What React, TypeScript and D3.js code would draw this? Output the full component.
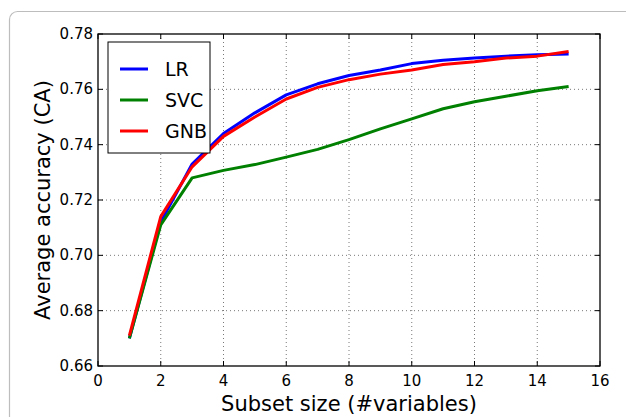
import React from "react";
import * as d3 from "d3";

const subsetSizes = [1, 2, 3, 4, 5, 6, 7, 8, 9, 10, 11, 12, 13, 14, 15];
const lrValues = [0.670, 0.712, 0.733, 0.744, 0.7515, 0.758, 0.762, 0.765, 0.767, 0.7693, 0.7705, 0.7713, 0.772, 0.7725, 0.7728];
const svcValues = [0.670, 0.711, 0.728, 0.7307, 0.7328, 0.7355, 0.7383, 0.7418, 0.7457, 0.7493, 0.753, 0.7555, 0.7575, 0.7595, 0.761];
const gnbValues = [0.671, 0.714, 0.732, 0.743, 0.750, 0.7565, 0.7607, 0.7635, 0.7655, 0.767, 0.769, 0.770, 0.7713, 0.772, 0.7737];
const seriesNames = ["LR", "SVC", "GNB"];
const seriesColors = ["#0000ff", "#008000", "#ff0000"];
const xTicks = [0, 2, 4, 6, 8, 10, 12, 14, 16];
const yTicks = [0.66, 0.68, 0.70, 0.72, 0.74, 0.76, 0.78];

const W = 626;
const H = 417;
const M = { left: 98, right: 600, top: 34, bottom: 366 };
const FONT = "DejaVu Sans, sans-serif";

export default function App() {
  const x = d3.scaleLinear().domain([0, 16]).range([M.left, M.right]);
  const y = d3.scaleLinear().domain([0.66, 0.78]).range([M.bottom, M.top]);
  const allSeries = [lrValues, svcValues, gnbValues];
  const line = d3
    .line<[number, number]>()
    .x((d) => x(d[0]))
    .y((d) => y(d[1]));

  return (
    <svg
      width={W}
      height={H}
      style={{ position: "absolute", left: 0, top: 0, background: "#fff" }}
    >
      <rect x={9.5} y={11.5} width={640} height={440} rx={8} ry={8} fill="#fff" stroke="#bdbdbd" strokeWidth={1.2} />
      {/* grid */}
      {xTicks.slice(1, -1).map((t) => (
        <line key={"gx" + t} x1={x(t)} x2={x(t)} y1={M.top} y2={M.bottom} stroke="#555" strokeWidth={0.8} strokeDasharray="1,3" />
      ))}
      {yTicks.slice(1, -1).map((t) => (
        <line key={"gy" + t} x1={M.left} x2={M.right} y1={y(t)} y2={y(t)} stroke="#555" strokeWidth={0.8} strokeDasharray="1,3" />
      ))}
      {/* series */}
      {allSeries.map((vals, i) => (
        <path
          key={seriesNames[i]}
          d={line(vals.map((v, j) => [subsetSizes[j], v] as [number, number])) || ""}
          fill="none"
          stroke={seriesColors[i]}
          strokeWidth={3}
          strokeLinejoin="round"
        />
      ))}
      {/* ticks */}
      {xTicks.map((t) => (
        <g key={"xt" + t}>
          <line x1={x(t)} x2={x(t)} y1={M.bottom} y2={M.bottom - 5} stroke="#000" />
          <line x1={x(t)} x2={x(t)} y1={M.top} y2={M.top + 5} stroke="#000" />
          <text x={x(t)} y={M.bottom + 20} textAnchor="middle" fontFamily={FONT} fontSize={15} fill="#000">
            {t}
          </text>
        </g>
      ))}
      {yTicks.map((t) => (
        <g key={"yt" + t}>
          <line x1={M.left} x2={M.left + 5} y1={y(t)} y2={y(t)} stroke="#000" />
          <line x1={M.right} x2={M.right - 5} y1={y(t)} y2={y(t)} stroke="#000" />
          <text x={M.left - 5} y={y(t) + 5} textAnchor="end" fontFamily={FONT} fontSize={15} fill="#000">
            {t.toFixed(2)}
          </text>
        </g>
      ))}
      {/* frame */}
      <rect x={M.left} y={M.top} width={M.right - M.left} height={M.bottom - M.top} fill="none" stroke="#000" strokeWidth={1.3} />
      {/* legend */}
      <rect x={108} y={42} width={102} height={111} fill="#fff" stroke="#000" strokeWidth={1} />
      {seriesNames.map((n, i) => (
        <g key={"lg" + n}>
          <line x1={120} x2={148} y1={69 + i * 31} y2={69 + i * 31} stroke={seriesColors[i]} strokeWidth={3} />
          <text x={165} y={69 + i * 31 + 7} fontFamily={FONT} fontSize={19} fill="#000">
            {n}
          </text>
        </g>
      ))}
      {/* axis titles */}
      <text x={(M.left + M.right) / 2} y={411} textAnchor="middle" fontFamily={FONT} fontSize={21} fill="#000">
        Subset size (#variables)
      </text>
      <text
        transform={`translate(50,${(M.top + M.bottom) / 2}) rotate(-90)`}
        textAnchor="middle"
        fontFamily={FONT}
        fontSize={21}
        fill="#000"
      >
        Average accuracy (CA)
      </text>
    </svg>
  );
}
